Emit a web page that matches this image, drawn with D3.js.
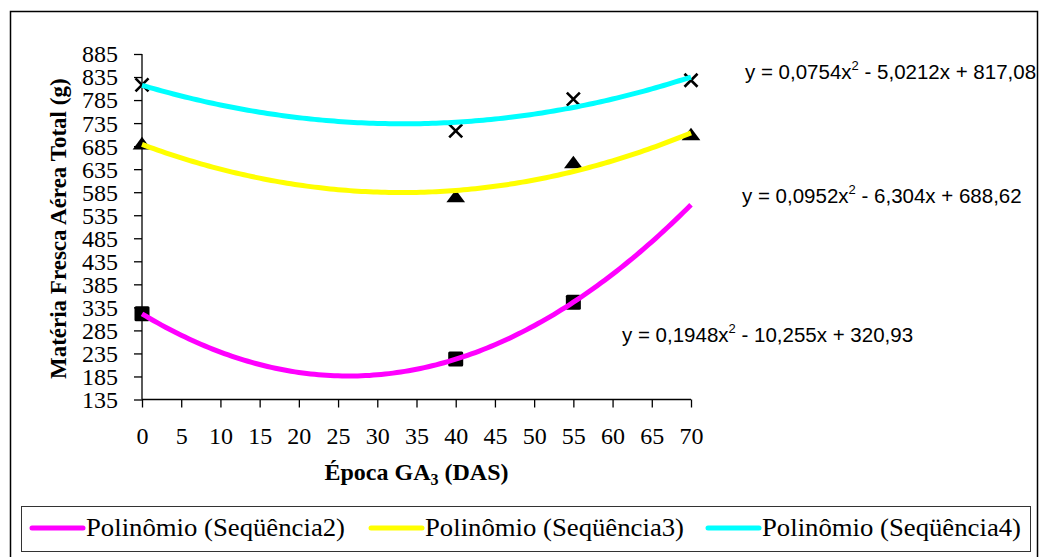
<!DOCTYPE html>
<html>
<head>
<meta charset="utf-8">
<script src="https://cdn.jsdelivr.net/npm/d3@7"></script>
<style>
  html, body { margin: 0; padding: 0; background: #fff; }
  svg { display: block; }
</style>
</head>
<body>
<svg id="chart" width="1040" height="557"></svg>
<script>
// Observed fresh shoot mass per GA3 application time (days after sowing)
const seq2X = [0, 40, 55];
const seq2Y = [321, 223, 346];
const seq3X = [0, 40, 55, 70];
const seq3Y = [687, 572, 646, 707];
const seq4X = [0, 40, 55, 70];
const seq4Y = [818, 718, 787, 828];

// Quadratic trendline coefficients [a, b, c] for y = a x^2 + b x + c
const seq2Fit = [0.1948, -10.255, 320.93];
const seq3Fit = [0.0952, -6.304, 688.62];
const seq4Fit = [0.0754, -5.0212, 817.08];

const legendLabels = ["Polinômio (Seqüência2)", "Polinômio (Seqüência3)", "Polinômio (Seqüência4)"];
const yTicks = d3.range(135, 886, 50);
const xTicks = d3.range(0, 71, 5);

const svg = d3.select("#chart");
const serif = "'Liberation Serif', 'Times New Roman', serif";
const sans = "'Liberation Sans', Arial, sans-serif";

// Outer chart frame
svg.append("rect")
  .attr("x", 10.5).attr("y", 11.5)
  .attr("width", 1027).attr("height", 560)
  .attr("fill", "none").attr("stroke", "#000").attr("stroke-width", 1.5);

const x = d3.scaleLinear().domain([0, 70]).range([142, 691]);
const y = d3.scaleLinear().domain([135, 885]).range([399.5, 54]);

// Axes
const yAxis = svg.append("g")
  .attr("transform", `translate(${x(0)},0)`)
  .call(d3.axisLeft(y).tickValues(yTicks).tickSize(8).tickPadding(16).tickFormat(d3.format("d")));
const xAxis = svg.append("g")
  .attr("transform", `translate(0,${y(135)})`)
  .call(d3.axisBottom(x).tickValues(xTicks).tickSize(8).tickPadding(26).tickFormat(d3.format("d")));
[yAxis, xAxis].forEach(g => {
  g.select(".domain").attr("stroke", "#000").attr("stroke-width", 1.3);
  g.selectAll(".tick line").attr("stroke", "#000").attr("stroke-width", 1.3);
  g.selectAll(".tick text").attr("fill", "#000")
    .style("font-family", serif).style("font-size", "24px");
});
yAxis.select(".domain").attr("d", `M0,${y(885)}V${y(135)}`);
xAxis.select(".domain").attr("d", `M${x(0)},0H${x(70)}`);
yAxis.selectAll(".tick text").attr("dy", "0.33em");
xAxis.selectAll(".tick text").attr("dy", "0.45em");

// Axis titles
svg.append("text")
  .attr("transform", `translate(66,${(y(885) + y(135)) / 2 + 2}) rotate(-90)`)
  .attr("text-anchor", "middle")
  .style("font-family", serif).style("font-size", "23px").style("font-weight", "bold")
  .text("Matéria Fresca Aérea Total (g)");

const xt = svg.append("text")
  .attr("x", (x(0) + x(70)) / 2).attr("y", 480)
  .attr("text-anchor", "middle")
  .style("font-family", serif).style("font-size", "24px").style("font-weight", "bold");
xt.append("tspan").text("Época GA");
xt.append("tspan").attr("dy", 5).style("font-size", "16px").text("3");
xt.append("tspan").attr("dy", -5).text(" (DAS)");

// Markers (drawn beneath the trendlines)
const marks = svg.append("g");
marks.selectAll(".sq").data(d3.zip(seq2X, seq2Y)).join("rect")
  .attr("x", d => x(d[0]) - 7.5).attr("y", d => y(d[1]) - 7.5)
  .attr("width", 15).attr("height", 15).attr("rx", 1.5)
  .attr("fill", "#000");
const tri = d3.symbol().type(d3.symbolTriangle).size(125);
marks.selectAll(".tri").data(d3.zip(seq3X, seq3Y)).join("path")
  .attr("transform", d => `translate(${x(d[0])},${y(d[1])}) scale(1.1,0.85)`)
  .attr("d", tri).attr("fill", "#000");
marks.selectAll(".cross").data(d3.zip(seq4X, seq4Y)).join("path")
  .attr("transform", d => `translate(${x(d[0])},${y(d[1])})`)
  .attr("d", "M-6.5,-6.5L6.5,6.5M-6.5,6.5L6.5,-6.5")
  .attr("stroke", "#000").attr("stroke-width", 2.6).attr("fill", "none");

// Quadratic trendlines
const poly = c => t => c[0] * t * t + c[1] * t + c[2];
const xs = d3.range(0, 70.001, 0.5);
const line = d3.line().x(d => x(d[0])).y(d => y(d[1])).curve(d3.curveLinear);
const fits = [
  { coef: seq2Fit, color: "#ff00ff" },
  { coef: seq3Fit, color: "#ffff00" },
  { coef: seq4Fit, color: "#00ffff" }
];
svg.append("g").selectAll("path").data(fits).join("path")
  .attr("d", f => line(xs.map(t => [t, poly(f.coef)(t)])))
  .attr("fill", "none").attr("stroke", f => f.color)
  .attr("stroke-width", 5).attr("stroke-linecap", "butt");

// Trendline equations
const fmt = (v, digits) => Math.abs(v).toFixed(digits).replace(".", ",");
function equation(px, py, c, d) {
  const t = svg.append("text").attr("x", px).attr("y", py)
    .style("font-family", sans).style("font-size", "20.5px").attr("fill", "#000");
  t.append("tspan").text(`y = ${fmt(c[0], d[0])}x`);
  t.append("tspan").attr("dy", -9).style("font-size", "13px").text("2");
  t.append("tspan").attr("dy", 9)
    .text(` ${c[1] < 0 ? "-" : "+"} ${fmt(c[1], d[1])}x ${c[2] < 0 ? "-" : "+"} ${fmt(c[2], d[2])}`);
}
equation(745, 79, seq4Fit, [4, 4, 2]);
equation(742, 203, seq3Fit, [4, 3, 2]);
equation(622, 342, seq2Fit, [4, 3, 2]);

// Legend
svg.append("rect")
  .attr("x", 21.5).attr("y", 506.5).attr("width", 1009).attr("height", 45)
  .attr("fill", "#fff").attr("stroke", "#333").attr("stroke-width", 1);
const legX = [32, 371, 708];
const leg = svg.append("g").selectAll("g").data(legendLabels).join("g")
  .attr("transform", (d, i) => `translate(${legX[i]},528)`);
leg.append("line").attr("x1", 0).attr("x2", 51).attr("y1", 0).attr("y2", 0)
  .attr("stroke", (d, i) => fits[i].color).attr("stroke-width", 5).attr("stroke-linecap", "round");
leg.append("text").attr("x", 54).attr("y", 0).attr("dy", "0.33em")
  .attr("textLength", 259).attr("lengthAdjust", "spacingAndGlyphs")
  .style("font-family", serif).style("font-size", "25px")
  .text(d => d);
</script>
</body>
</html>
